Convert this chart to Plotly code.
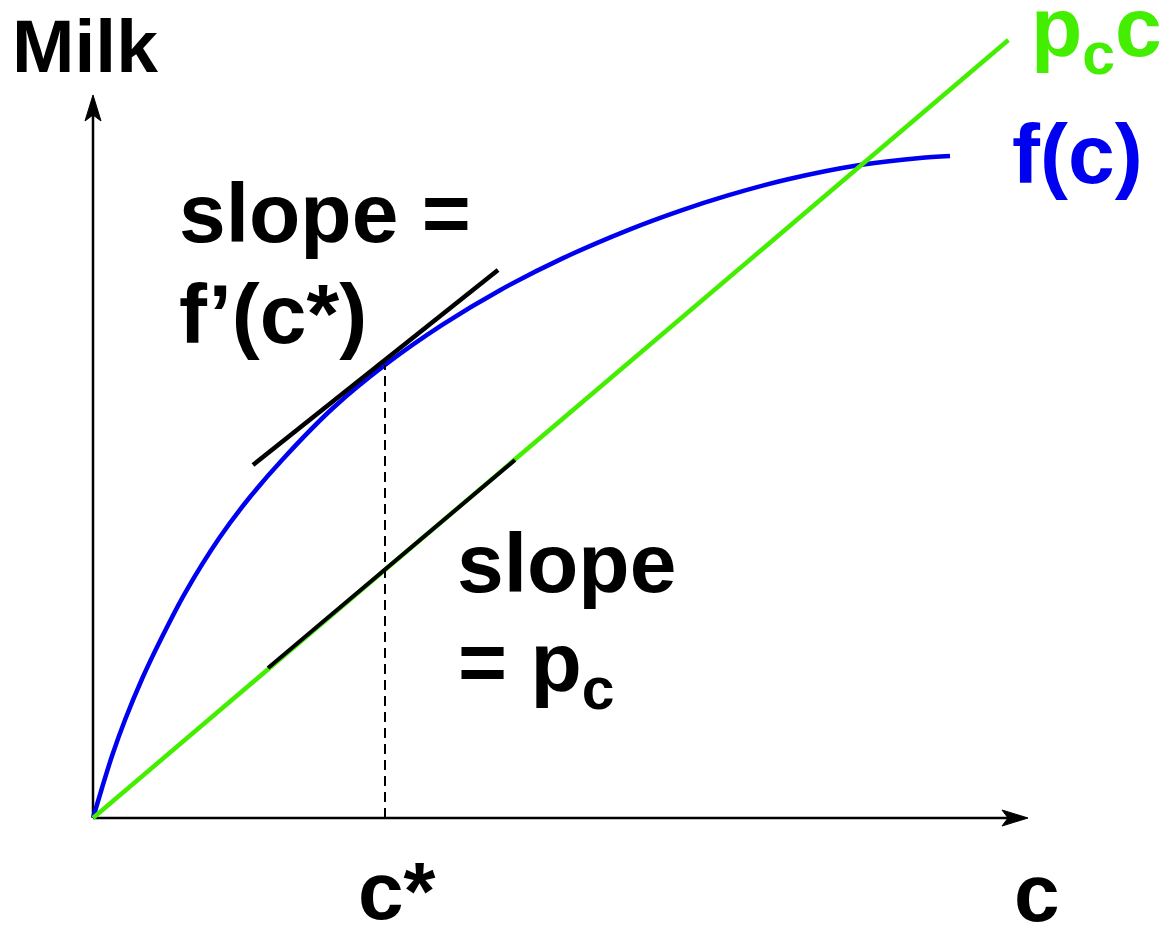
import plotly.graph_objects as go

# ---- data ----
c_curve = [0.0, 0.096, 0.203, 0.342, 0.524, 0.738, 0.984, 1.358, 1.679, 2.032, 2.567,
           3.123, 3.743, 4.353, 5.027, 5.743, 6.278, 6.791, 7.422, 8.203, 8.845, 9.166]
milk_curve = [0.0, 0.321, 0.663, 1.048, 1.487, 1.936, 2.406, 3.005, 3.433, 3.840, 4.385,
              4.845, 5.279, 5.645, 5.988, 6.296, 6.494, 6.659, 6.829, 6.984, 7.059, 7.080]
cost_c = [0.0, 9.79]
cost_milk = [0.0, 8.32]
tangent_c = [1.711, 4.332]
tangent_milk = [3.775, 5.861]
segment_c = [1.872, 4.513]
segment_milk = [1.604, 3.829]
c_star = 3.123
f_c_star = 4.845
x_axis_end = 10.0
y_axis_end = 7.733

W, H = 1167, 928
SCALE = 93.5          # pixels per data unit
X0, Y0 = 93, 818      # origin position in pixels
x_range = [-X0 / SCALE, (W - X0) / SCALE]
y_range = [-(H - Y0) / SCALE, Y0 / SCALE]

GREEN = "#44ee00"
BLUE = "#0000f0"
FONT = "Liberation Sans, Arial, Helvetica, sans-serif"

fig = go.Figure()

# axes
fig.add_trace(go.Scatter(x=[0, x_axis_end - 0.2], y=[0, 0], mode="lines",
                         line=dict(color="black", width=2.5), hoverinfo="skip"))
fig.add_trace(go.Scatter(x=[0, 0], y=[0, y_axis_end - 0.2], mode="lines",
                         line=dict(color="black", width=2.5), hoverinfo="skip"))

# f(c)
fig.add_trace(go.Scatter(x=c_curve, y=milk_curve, mode="lines",
                         line=dict(color=BLUE, width=4.5, shape="spline", smoothing=0.8),
                         hoverinfo="skip"))
# p_c c
fig.add_trace(go.Scatter(x=cost_c, y=cost_milk, mode="lines",
                         line=dict(color=GREEN, width=4.5), hoverinfo="skip"))
# black segment on cost line
fig.add_trace(go.Scatter(x=segment_c, y=segment_milk, mode="lines",
                         line=dict(color="black", width=4), hoverinfo="skip"))
# tangent line
fig.add_trace(go.Scatter(x=tangent_c, y=tangent_milk, mode="lines",
                         line=dict(color="black", width=4.5), hoverinfo="skip"))
# dashed vertical at c*
fig.add_trace(go.Scatter(x=[c_star, c_star], y=[0, f_c_star], mode="lines",
                         line=dict(color="black", width=2, dash="10px,6px"),
                         hoverinfo="skip"))

# arrowheads
L = 26 / SCALE
HW = 8 / SCALE
N = 20 / SCALE
xa = x_axis_end
ya = y_axis_end
shapes = [
    dict(type="path", xref="x", yref="y",
         path=f"M{xa},0 L{xa - L},{HW} L{xa - N},0 L{xa - L},{-HW} Z",
         fillcolor="black", line=dict(color="black", width=1)),
    dict(type="path", xref="x", yref="y",
         path=f"M0,{ya} L{HW},{ya - L} L0,{ya - N} L{-HW},{ya - L} Z",
         fillcolor="black", line=dict(color="black", width=1)),
]

def P(px, py):
    return px / W, 1 - py / H

def label(text, px, py, size, color="black", xanchor="left"):
    x, y = P(px, py)
    return dict(text=text, x=x, y=y, xref="paper", yref="paper",
                xanchor=xanchor, yanchor="middle", showarrow=False,
                font=dict(family=FONT, size=size, color=color, weight="bold"))

annotations = [
    label("Milk", 10, 46, 75),
    label("slope =", 177, 213, 84),
    label("f\u2019(c*)", 177, 314, 84),
    label("slope", 455, 563, 84),
    label("= p<sub>c</sub>", 456, 668, 84),
    label("c*", 397, 890, 82, xanchor="center"),
    label("c", 1037, 892, 82, xanchor="center"),
    label("f(c)", 1010, 154, 84, color=BLUE),
    label("p<sub>c</sub>c", 1029, 33, 84, color=GREEN),
]

fig.update_layout(
    width=W, height=H, autosize=False,
    margin=dict(l=0, r=0, t=0, b=0),
    paper_bgcolor="white", plot_bgcolor="white",
    showlegend=False,
    xaxis=dict(range=x_range, visible=False, fixedrange=True),
    yaxis=dict(range=y_range, visible=False, fixedrange=True),
    shapes=shapes,
    annotations=annotations,
)

fig.write_html("out.html", config={"displayModeBar": False},
               post_script="document.body.style.margin='0';")
